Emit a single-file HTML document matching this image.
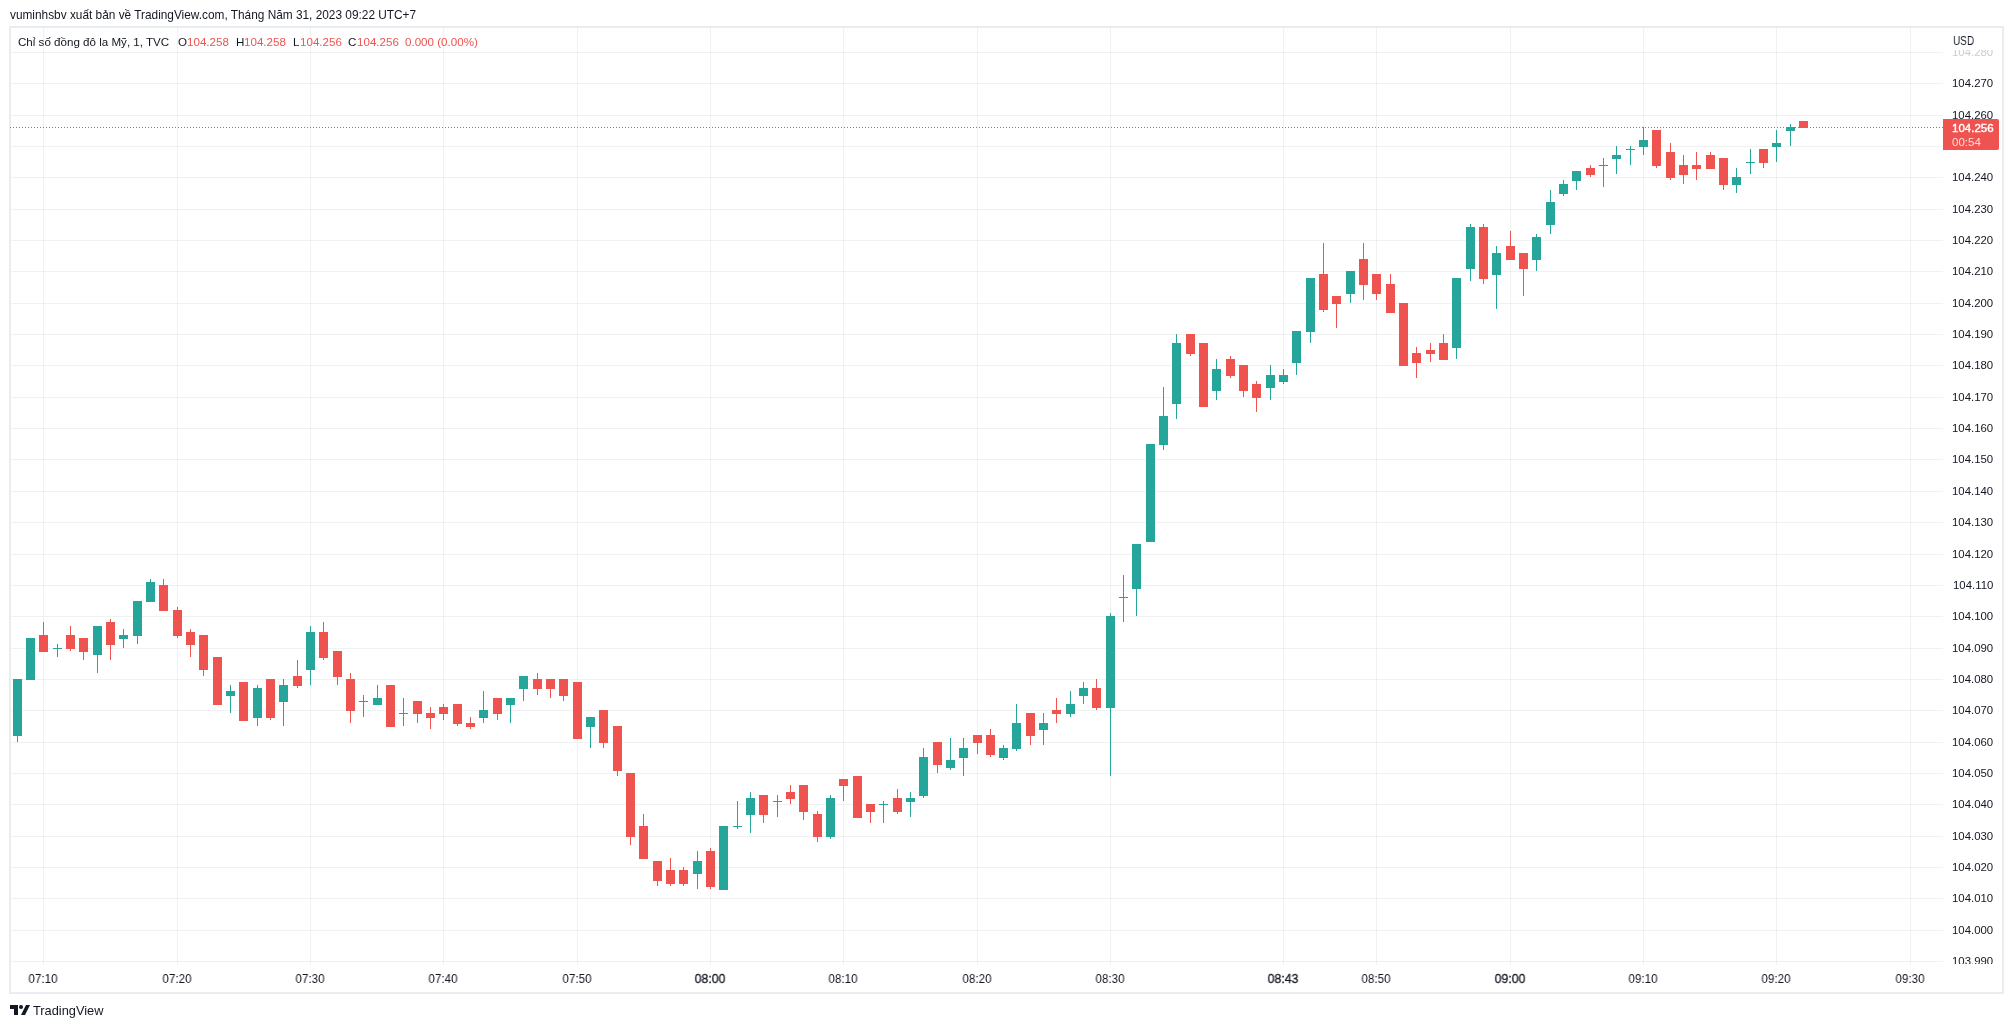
<!DOCTYPE html>
<html><head><meta charset="utf-8"><style>
html,body{margin:0;padding:0;background:#fff;width:2013px;height:1028px;overflow:hidden;position:relative}
*{font-family:"Liberation Sans",sans-serif}
.hdr,.leg,.pl,.tl,.usd,.plab div,.tv{will-change:transform}
.hdr{position:absolute;left:10px;top:7px;font-size:11.85px;color:#131722;white-space:nowrap;line-height:16px}
.leg{position:absolute;top:34px;font-size:11.6px;color:#131722;white-space:pre;line-height:16px}
.leg.r{color:#ef5350}
.pax{position:absolute;left:1943px;top:28px;width:59px;height:936px;overflow:hidden}
.pl{position:absolute;right:9px;font-size:11.4px;line-height:14px;color:#131722;white-space:nowrap}
.tl{position:absolute;top:970px;width:60px;text-align:center;font-size:13px;line-height:18px;color:#131722;transform:scaleX(0.9)}
.tl.b{-webkit-text-stroke:0.3px #131722;transform:scaleX(0.95)}
.usd{position:absolute;left:1953px;top:33px;font-size:12.2px;transform:scaleX(0.82);transform-origin:0 0;line-height:16px;color:#131722}
.plab{position:absolute;left:1943px;top:119px;width:56px;height:31px;background:#ef5350;border-radius:0 2px 2px 0}
.plab div{position:absolute;left:9px;font-size:11.5px;line-height:14px;color:#fff;white-space:nowrap}
.logo{position:absolute;left:10px;top:1004px}
.tv{position:absolute;left:33px;top:1003px;font-size:12.8px;line-height:16px;color:#131722}
</style></head><body>
<svg width="2013" height="1028" viewBox="0 0 2013 1028" shape-rendering="crispEdges" style="position:absolute;left:0;top:0">
<rect x="10" y="27" width="1993" height="966" fill="none" stroke="#e9ecf1" stroke-width="2"/>
<path fill="rgba(42,46,57,0.065)" d="M11 52h1932v1h-1932zM11 83h1932v1h-1932zM11 115h1932v1h-1932zM11 146h1932v1h-1932zM11 177h1932v1h-1932zM11 209h1932v1h-1932zM11 240h1932v1h-1932zM11 271h1932v1h-1932zM11 303h1932v1h-1932zM11 334h1932v1h-1932zM11 365h1932v1h-1932zM11 397h1932v1h-1932zM11 428h1932v1h-1932zM11 459h1932v1h-1932zM11 491h1932v1h-1932zM11 522h1932v1h-1932zM11 554h1932v1h-1932zM11 585h1932v1h-1932zM11 616h1932v1h-1932zM11 648h1932v1h-1932zM11 679h1932v1h-1932zM11 710h1932v1h-1932zM11 742h1932v1h-1932zM11 773h1932v1h-1932zM11 804h1932v1h-1932zM11 836h1932v1h-1932zM11 867h1932v1h-1932zM11 898h1932v1h-1932zM11 930h1932v1h-1932zM11 961h1932v1h-1932z"/>
<path fill="rgba(42,46,57,0.065)" d="M43 28h1v937h-1zM177 28h1v937h-1zM310 28h1v937h-1zM443 28h1v937h-1zM577 28h1v937h-1zM710 28h1v937h-1zM843 28h1v937h-1zM977 28h1v937h-1zM1110 28h1v937h-1zM1283 28h1v937h-1zM1376 28h1v937h-1zM1510 28h1v937h-1zM1643 28h1v937h-1zM1776 28h1v937h-1zM1910 28h1v937h-1z"/>
<path fill="#26a69a" d="M17 679h1v63h-1zM13 679h9v57h-9zM30 638h1v41h-1zM26 638h9v42h-9zM57 644h1v13h-1zM53 648h9v1h-9zM97 626h1v47h-1zM93 626h9v29h-9zM123 629h1v19h-1zM119 635h9v4h-9zM137 601h1v43h-1zM133 601h9v35h-9zM150 579h1v22h-1zM146 582h9v20h-9zM230 685h1v28h-1zM226 691h9v5h-9zM257 685h1v41h-1zM253 688h9v30h-9zM283 679h1v47h-1zM279 685h9v17h-9zM310 626h1v59h-1zM306 632h9v38h-9zM363 695h1v22h-1zM359 701h9v1h-9zM377 685h1v19h-1zM373 698h9v7h-9zM403 698h1v28h-1zM399 713h9v1h-9zM483 691h1v32h-1zM479 710h9v8h-9zM510 698h1v25h-1zM506 698h9v7h-9zM523 676h1v25h-1zM519 676h9v13h-9zM590 717h1v31h-1zM586 717h9v10h-9zM697 851h1v38h-1zM693 861h9v13h-9zM723 826h1v63h-1zM719 826h9v64h-9zM737 801h1v28h-1zM733 826h9v1h-9zM750 792h1v41h-1zM746 798h9v17h-9zM777 795h1v22h-1zM773 801h9v1h-9zM830 795h1v44h-1zM826 798h9v39h-9zM883 801h1v22h-1zM879 804h9v1h-9zM910 792h1v25h-1zM906 798h9v4h-9zM923 748h1v50h-1zM919 757h9v39h-9zM950 738h1v32h-1zM946 760h9v8h-9zM963 738h1v38h-1zM959 748h9v10h-9zM1003 745h1v15h-1zM999 748h9v10h-9zM1016 704h1v47h-1zM1012 723h9v26h-9zM1043 713h1v32h-1zM1039 723h9v7h-9zM1070 691h1v26h-1zM1066 704h9v10h-9zM1083 682h1v22h-1zM1079 688h9v8h-9zM1110 613h1v163h-1zM1106 616h9v92h-9zM1123 575h1v47h-1zM1119 597h9v1h-9zM1136 544h1v72h-1zM1132 544h9v45h-9zM1150 444h1v97h-1zM1146 444h9v98h-9zM1163 387h1v63h-1zM1159 416h9v29h-9zM1176 334h1v85h-1zM1172 343h9v61h-9zM1216 359h1v41h-1zM1212 369h9v22h-9zM1270 365h1v35h-1zM1266 375h9v13h-9zM1283 369h1v15h-1zM1279 375h9v7h-9zM1296 331h1v44h-1zM1292 331h9v32h-9zM1310 278h1v65h-1zM1306 278h9v54h-9zM1350 271h1v32h-1zM1346 271h9v23h-9zM1456 278h1v81h-1zM1452 278h9v70h-9zM1470 224h1v57h-1zM1466 227h9v42h-9zM1496 246h1v63h-1zM1492 253h9v22h-9zM1536 234h1v37h-1zM1532 237h9v23h-9zM1550 190h1v44h-1zM1546 202h9v23h-9zM1563 180h1v16h-1zM1559 184h9v10h-9zM1576 171h1v19h-1zM1572 171h9v10h-9zM1603 158h1v29h-1zM1599 165h9v1h-9zM1616 146h1v28h-1zM1612 155h9v4h-9zM1630 146h1v19h-1zM1626 149h9v1h-9zM1643 127h1v28h-1zM1639 140h9v7h-9zM1736 168h1v25h-1zM1732 177h9v8h-9zM1750 149h1v25h-1zM1746 162h9v1h-9zM1776 130h1v32h-1zM1772 143h9v4h-9zM1790 124h1v22h-1zM1786 127h9v4h-9z"/>
<path fill="#ef5350" d="M43 622h1v29h-1zM39 635h9v17h-9zM70 626h1v25h-1zM66 635h9v14h-9zM83 638h1v22h-1zM79 638h9v14h-9zM110 619h1v41h-1zM106 622h9v23h-9zM163 579h1v31h-1zM159 585h9v26h-9zM177 607h1v31h-1zM173 610h9v26h-9zM190 629h1v28h-1zM186 632h9v13h-9zM203 635h1v41h-1zM199 635h9v35h-9zM217 657h1v47h-1zM213 657h9v48h-9zM243 682h1v38h-1zM239 682h9v39h-9zM270 679h1v41h-1zM266 679h9v39h-9zM297 660h1v28h-1zM293 676h9v10h-9zM323 622h1v38h-1zM319 632h9v26h-9zM337 651h1v34h-1zM333 651h9v26h-9zM350 673h1v50h-1zM346 679h9v32h-9zM390 685h1v41h-1zM386 685h9v42h-9zM417 701h1v22h-1zM413 701h9v13h-9zM430 707h1v22h-1zM426 713h9v5h-9zM443 704h1v16h-1zM439 707h9v7h-9zM457 704h1v22h-1zM453 704h9v20h-9zM470 717h1v12h-1zM466 723h9v4h-9zM497 698h1v22h-1zM493 698h9v16h-9zM537 673h1v22h-1zM533 679h9v10h-9zM550 679h1v19h-1zM546 679h9v10h-9zM563 679h1v22h-1zM559 679h9v17h-9zM577 682h1v56h-1zM573 682h9v57h-9zM603 710h1v38h-1zM599 710h9v33h-9zM617 726h1v50h-1zM613 726h9v45h-9zM630 773h1v72h-1zM626 773h9v64h-9zM643 814h1v44h-1zM639 826h9v33h-9zM657 861h1v25h-1zM653 861h9v20h-9zM670 858h1v28h-1zM666 870h9v14h-9zM683 867h1v19h-1zM679 870h9v14h-9zM710 848h1v41h-1zM706 851h9v36h-9zM763 795h1v28h-1zM759 795h9v20h-9zM790 785h1v19h-1zM786 792h9v7h-9zM803 785h1v35h-1zM799 785h9v27h-9zM817 811h1v31h-1zM813 814h9v23h-9zM843 779h1v22h-1zM839 779h9v7h-9zM857 776h1v41h-1zM853 776h9v42h-9zM870 804h1v19h-1zM866 804h9v8h-9zM897 789h1v25h-1zM893 798h9v14h-9zM937 742h1v31h-1zM933 742h9v23h-9zM977 735h1v19h-1zM973 735h9v8h-9zM990 729h1v28h-1zM986 735h9v20h-9zM1030 713h1v32h-1zM1026 713h9v23h-9zM1056 698h1v25h-1zM1052 710h9v4h-9zM1096 679h1v31h-1zM1092 688h9v20h-9zM1190 334h1v22h-1zM1186 334h9v20h-9zM1203 343h1v63h-1zM1199 343h9v64h-9zM1230 356h1v22h-1zM1226 359h9v17h-9zM1243 365h1v32h-1zM1239 365h9v26h-9zM1256 381h1v31h-1zM1252 384h9v14h-9zM1323 243h1v69h-1zM1319 274h9v36h-9zM1336 296h1v32h-1zM1332 296h9v8h-9zM1363 243h1v57h-1zM1359 259h9v26h-9zM1376 274h1v26h-1zM1372 274h9v20h-9zM1390 274h1v38h-1zM1386 284h9v29h-9zM1403 303h1v62h-1zM1399 303h9v63h-9zM1416 347h1v31h-1zM1412 353h9v10h-9zM1430 343h1v19h-1zM1426 350h9v4h-9zM1443 334h1v25h-1zM1439 343h9v17h-9zM1483 224h1v60h-1zM1479 227h9v52h-9zM1510 231h1v28h-1zM1506 246h9v14h-9zM1523 253h1v43h-1zM1519 253h9v16h-9zM1590 165h1v12h-1zM1586 168h9v7h-9zM1656 130h1v38h-1zM1652 130h9v36h-9zM1670 143h1v37h-1zM1666 152h9v26h-9zM1683 155h1v29h-1zM1679 165h9v10h-9zM1696 152h1v28h-1zM1692 165h9v4h-9zM1710 152h1v16h-1zM1706 155h9v14h-9zM1723 158h1v32h-1zM1719 158h9v27h-9zM1763 149h1v19h-1zM1759 149h9v14h-9zM1803 121h1v6h-1zM1799 121h9v7h-9z"/>
<line x1="10" y1="127.5" x2="1943" y2="127.5" stroke="#ef5350" stroke-width="1" stroke-dasharray="1 2"/>
</svg>
<div class="hdr">vuminhsbv xuất bản về TradingView.com, Tháng Năm 31, 2023 09:22 UTC+7</div>
<div class="leg" style="left:18px">Chỉ số đồng đô la Mỹ, 1, TVC</div>
<div class="leg" style="left:178px">O</div><div class="leg r" style="left:187px">104.258</div>
<div class="leg" style="left:236px">H</div><div class="leg r" style="left:244px">104.258</div>
<div class="leg" style="left:293px">L</div><div class="leg r" style="left:299.5px">104.256</div>
<div class="leg" style="left:348px">C</div><div class="leg r" style="left:356.5px">104.256</div>
<div class="leg r" style="left:405px">0.000 (0.00%)</div>
<div class="pax">
<div class="pl" style="top:17px;color:#c9cbd1">104.280</div>
<div style="position:absolute;left:0;top:0;width:59px;height:22px;background:#fff"></div>
<div class="pl" style="top:48px">104.270</div>
<div class="pl" style="top:80px">104.260</div>
<div class="pl" style="top:111px">104.250</div>
<div class="pl" style="top:142px">104.240</div>
<div class="pl" style="top:174px">104.230</div>
<div class="pl" style="top:205px">104.220</div>
<div class="pl" style="top:236px">104.210</div>
<div class="pl" style="top:268px">104.200</div>
<div class="pl" style="top:299px">104.190</div>
<div class="pl" style="top:330px">104.180</div>
<div class="pl" style="top:362px">104.170</div>
<div class="pl" style="top:393px">104.160</div>
<div class="pl" style="top:424px">104.150</div>
<div class="pl" style="top:456px">104.140</div>
<div class="pl" style="top:487px">104.130</div>
<div class="pl" style="top:519px">104.120</div>
<div class="pl" style="top:550px">104.110</div>
<div class="pl" style="top:581px">104.100</div>
<div class="pl" style="top:613px">104.090</div>
<div class="pl" style="top:644px">104.080</div>
<div class="pl" style="top:675px">104.070</div>
<div class="pl" style="top:707px">104.060</div>
<div class="pl" style="top:738px">104.050</div>
<div class="pl" style="top:769px">104.040</div>
<div class="pl" style="top:801px">104.030</div>
<div class="pl" style="top:832px">104.020</div>
<div class="pl" style="top:863px">104.010</div>
<div class="pl" style="top:895px">104.000</div>
<div class="pl" style="top:926px">103.990</div>
</div>
<div class="usd">USD</div>
<div class="plab"><div style="top:119px"></div><div style="top:2px;-webkit-text-stroke:0.4px #fff">104.256</div><div style="top:16px;color:rgba(255,255,255,0.8)">00:54</div></div>
<div class="tl" style="left:13px">07:10</div>
<div class="tl" style="left:147px">07:20</div>
<div class="tl" style="left:280px">07:30</div>
<div class="tl" style="left:413px">07:40</div>
<div class="tl" style="left:547px">07:50</div>
<div class="tl b" style="left:680px">08:00</div>
<div class="tl" style="left:813px">08:10</div>
<div class="tl" style="left:947px">08:20</div>
<div class="tl" style="left:1080px">08:30</div>
<div class="tl b" style="left:1253px">08:43</div>
<div class="tl" style="left:1346px">08:50</div>
<div class="tl b" style="left:1480px">09:00</div>
<div class="tl" style="left:1613px">09:10</div>
<div class="tl" style="left:1746px">09:20</div>
<div class="tl" style="left:1880px">09:30</div>
<svg class="logo" width="22" height="12" viewBox="0 0 22 12"><path fill="#131722" d="M0 1h8v10h-4v-6h-4z"/><circle cx="11" cy="3" r="2" fill="#131722"/><path fill="#131722" d="M16 1h4l-5 10h-4z"/></svg>
<div class="tv">TradingView</div>
</body></html>
